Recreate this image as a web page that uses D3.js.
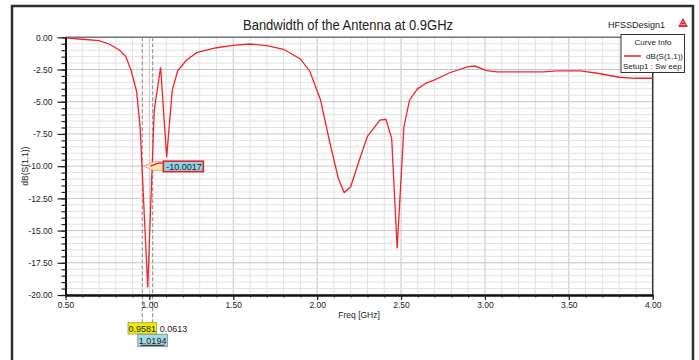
<!DOCTYPE html>
<html>
<head>
<meta charset="utf-8">
<script src="https://cdn.jsdelivr.net/npm/d3@7"></script>
<style>
  body { margin: 0; background: #fff; }
  text { font-family: "Liberation Sans", Arial, sans-serif; fill: #222; }
</style>
</head>
<body>
<div id="chart"></div>
<script>
//* ------------------------------ DATA ---------------------------------------- //
const freq = [0.50, 0.60, 0.70, 0.76, 0.82, 0.86, 0.89, 0.924, 0.945, 0.99,
  1.029, 1.067, 1.103, 1.136, 1.169, 1.222, 1.282, 1.40, 1.50, 1.60,
  1.70, 1.80, 1.90, 1.957, 2.02, 2.076, 2.126, 2.161, 2.20, 2.245,
  2.299, 2.374, 2.41, 2.444, 2.477, 2.517, 2.551, 2.598, 2.65, 2.70,
  2.79, 2.90, 2.94, 3.01, 3.07, 3.35, 3.43, 3.57, 3.67, 3.80, 3.90, 4.00];
const s11 = [-0.05, -0.15, -0.26, -0.52, -0.98, -1.5, -2.54, -4.22, -7.0, -19.4,
  -5.64, -2.33, -9.3, -4.14, -2.59, -1.76, -1.19, -0.81, -0.62, -0.52,
  -0.65, -0.93, -1.68, -2.65, -4.86, -8.2, -10.94, -12.05, -11.6, -9.78,
  -7.71, -6.42, -6.36, -7.84, -16.37, -6.94, -4.86, -4.0, -3.55, -3.3,
  -2.75, -2.28, -2.23, -2.59, -2.69, -2.69, -2.61, -2.61, -2.79, -3.1, -3.18, -3.18];

const xTicks = [0.5, 1.0, 1.5, 2.0, 2.5, 3.0, 3.5, 4.0];
const yTicks = [0, -2.5, -5, -7.5, -10, -12.5, -15, -17.5, -20];

const markerFreqs = [0.9581, 1.0194];
const markerLevel = -10.0017;
const bandwidth = 0.0613;
//* ------------------------------ END DATA ------------------------------------ //

//* ------------------------------ CONSTANTS ----------------------------------- //
const width = 699;
const height = 360;
const plot = {left: 65.5, right: 652.7, top: 37.3, bottom: 295};

const x = d3.scaleLinear().domain([0.5, 4.0]).range([plot.left, plot.right]);
const y = d3.scaleLinear().domain([0, -20]).range([plot.top, plot.bottom]);

const minorX = d3.range(5, 41).map(d => d / 10);
const minorY = d3.range(0, 41).map(d => -d / 2);

const svg = d3.select("#chart").append("svg")
  .attr("width", width)
  .attr("height", height);
//* ------------------------------ END CONSTANTS ------------------------------- //

// outer window frame
svg.append("rect")
  .attr("x", 12).attr("y", 6)
  .attr("width", 681).attr("height", 370)
  .attr("fill", "#fff")
  .attr("stroke", "#2e2e2e")
  .attr("stroke-width", 2.5);

// grid
const grid = svg.append("g");
grid.selectAll(".vminor").data(minorX).join("line")
  .attr("x1", d => x(d)).attr("x2", d => x(d))
  .attr("y1", plot.top).attr("y2", plot.bottom)
  .attr("stroke", d => xTicks.includes(d) ? "#c6c6c6" : "#e2e2e2")
  .attr("stroke-width", 1);
grid.selectAll(".hminor").data(minorY).join("line")
  .attr("x1", plot.left).attr("x2", plot.right)
  .attr("y1", d => y(d)).attr("y2", d => y(d))
  .attr("stroke", d => yTicks.includes(d) ? "#c6c6c6" : "#e2e2e2")
  .attr("stroke-width", 1);

// plot frame top / right
svg.append("line")
  .attr("x1", plot.left).attr("x2", plot.right)
  .attr("y1", plot.top).attr("y2", plot.top)
  .attr("stroke", "#777").attr("stroke-width", 1.5);
svg.append("line")
  .attr("x1", plot.right).attr("x2", plot.right)
  .attr("y1", plot.top).attr("y2", plot.bottom)
  .attr("stroke", "#333").attr("stroke-width", 1.5);

// marker dashed lines
const markerEnds = [322, 334];
svg.selectAll(".marker").data(markerFreqs).join("line")
  .attr("x1", d => x(d)).attr("x2", d => x(d))
  .attr("y1", plot.top).attr("y2", (d, i) => markerEnds[i])
  .attr("stroke", "#9a9a9a")
  .attr("stroke-width", 1.2)
  .attr("stroke-dasharray", "4,2");

// curve
const line = d3.line()
  .x((d, i) => x(freq[i]))
  .y(d => y(d));
svg.append("path")
  .datum(s11)
  .attr("d", line)
  .attr("fill", "none")
  .attr("stroke", "#f0252a")
  .attr("stroke-width", 1.3);

// axes
svg.append("g")
  .attr("transform", `translate(${plot.left},0)`)
  .call(d3.axisLeft(y).tickValues(yTicks).tickSize(8).tickSizeOuter(0)
    .tickPadding(5).tickFormat(d => d.toFixed(2)));
svg.append("g")
  .attr("transform", `translate(${plot.left},0)`)
  .call(d3.axisLeft(y).tickValues(minorY).tickSize(4).tickSizeOuter(0).tickFormat(""));

svg.append("g")
  .attr("transform", `translate(0,${plot.bottom})`)
  .call(d3.axisBottom(x).tickValues(xTicks).tickSize(5).tickSizeOuter(0)
    .tickPadding(2).tickFormat(d => d.toFixed(2)));
svg.append("g")
  .attr("transform", `translate(0,${plot.bottom})`)
  .call(d3.axisBottom(x).tickValues(minorX).tickSize(2.5).tickSizeOuter(0).tickFormat(""));

svg.selectAll(".tick line").attr("stroke", "#222").attr("stroke-width", 1.2);
svg.selectAll(".domain").attr("stroke", "#111").attr("stroke-width", 2);
svg.selectAll(".tick text")
  .style("font-family", "'Liberation Sans', Arial, sans-serif")
  .style("font-size", "8.5px")
  .attr("fill", "#222");

// axis labels
svg.append("text")
  .attr("x", (plot.left + plot.right) / 2)
  .attr("y", 318)
  .attr("text-anchor", "middle")
  .style("font-size", "8.5px")
  .text("Freq [GHz]");
svg.append("text")
  .attr("transform", `translate(28,${(plot.top + plot.bottom) / 2}) rotate(-90)`)
  .attr("text-anchor", "middle")
  .style("font-size", "8.5px")
  .text("dB(S(1,1))");

// title + design name
svg.append("text")
  .attr("x", 243).attr("y", 30)
  .attr("textLength", 210)
  .attr("lengthAdjust", "spacingAndGlyphs")
  .style("font-size", "14.5px")
  .text("Bandwidth of the Antenna at 0.9GHz");
svg.append("text")
  .attr("x", 608).attr("y", 28)
  .attr("textLength", 57)
  .attr("lengthAdjust", "spacingAndGlyphs")
  .style("font-size", "9.5px")
  .text("HFSSDesign1");
svg.append("path")
  .attr("d", "M683,18 L688,27 L678,27 Z")
  .attr("fill", "#d9333a");
svg.append("path")
  .attr("d", "M680.5,24.5 L685.5,24.5 M681.8,22 L684.2,22")
  .attr("stroke", "#f3b0b0").attr("stroke-width", 0.8);

// legend
const legend = svg.append("g");
legend.append("rect")
  .attr("x", 621).attr("y", 34.5)
  .attr("width", 63.5).attr("height", 38)
  .attr("fill", "#fff").attr("stroke", "#333").attr("stroke-width", 1);
legend.append("text")
  .attr("x", 653).attr("y", 45)
  .attr("text-anchor", "middle")
  .style("font-size", "8px")
  .text("Curve Info");
legend.append("line")
  .attr("x1", 624).attr("x2", 641).attr("y1", 56).attr("y2", 56)
  .attr("stroke", "#f0252a").attr("stroke-width", 1.5);
legend.append("text")
  .attr("x", 683).attr("y", 59)
  .attr("text-anchor", "end")
  .style("font-size", "8px")
  .text("dB(S(1,1))");
legend.append("text")
  .attr("x", 623).attr("y", 69)
  .style("font-size", "8px")
  .text("Setup1 : Sw eep");

// callout for the -10 dB marker
const mx = x(markerFreqs[0]);
const my = y(markerLevel);
svg.append("path")
  .attr("d", `M${mx + 1},${my} L${mx + 12},${my - 4.5} L${mx + 22},${my - 4.5} L${mx + 22},${my + 4.5} L${mx + 12},${my + 4.5} Z`)
  .attr("fill", "#fbe7b5")
  .attr("stroke", "#f2a0a0")
  .attr("stroke-width", 1);
svg.append("path")
  .attr("d", `M${mx + 8},${my} L${mx + 16},${my - 3} L${mx + 21},${my - 3}`)
  .attr("fill", "none")
  .attr("stroke", "#e8202a").attr("stroke-width", 1.2);
svg.append("rect")
  .attr("x", mx + 21).attr("y", my - 5)
  .attr("width", 40).attr("height", 10.5)
  .attr("fill", "#8ed3e6")
  .attr("stroke", "#e8202a").attr("stroke-width", 1.6);
svg.append("text")
  .attr("x", mx + 24).attr("y", my + 3.5)
  .style("font-size", "9px")
  .text(markerLevel.toFixed(4));

// marker readouts below axis
const f0 = x(markerFreqs[0]);
const f1 = x(markerFreqs[1]);
svg.append("rect")
  .attr("x", f0 - 14.3).attr("y", 322.7)
  .attr("width", 28.6).attr("height", 11.3)
  .attr("fill", "#f0ef00").attr("stroke", "#a9a66a").attr("stroke-width", 1);
svg.append("text")
  .attr("x", f0).attr("y", 332)
  .attr("text-anchor", "middle")
  .style("font-size", "9px")
  .text(markerFreqs[0].toFixed(4));
svg.append("text")
  .attr("x", f0 + 17.5).attr("y", 332)
  .style("font-size", "9px")
  .text(bandwidth.toFixed(4));
svg.append("rect")
  .attr("x", f1 - 14.8).attr("y", 334.3)
  .attr("width", 29.6).attr("height", 12.3)
  .attr("fill", "#a3dbe9").attr("stroke", "#8a9ca2").attr("stroke-width", 1);
svg.append("text")
  .attr("x", f1).attr("y", 343.5)
  .attr("text-anchor", "middle")
  .style("font-size", "9px")
  .text(markerFreqs[1].toFixed(4));
svg.append("line")
  .attr("x1", f1 - 12).attr("x2", f1 + 12).attr("y1", 345.3).attr("y2", 345.3)
  .attr("stroke", "#222").attr("stroke-width", 1);
</script>
</body>
</html>
